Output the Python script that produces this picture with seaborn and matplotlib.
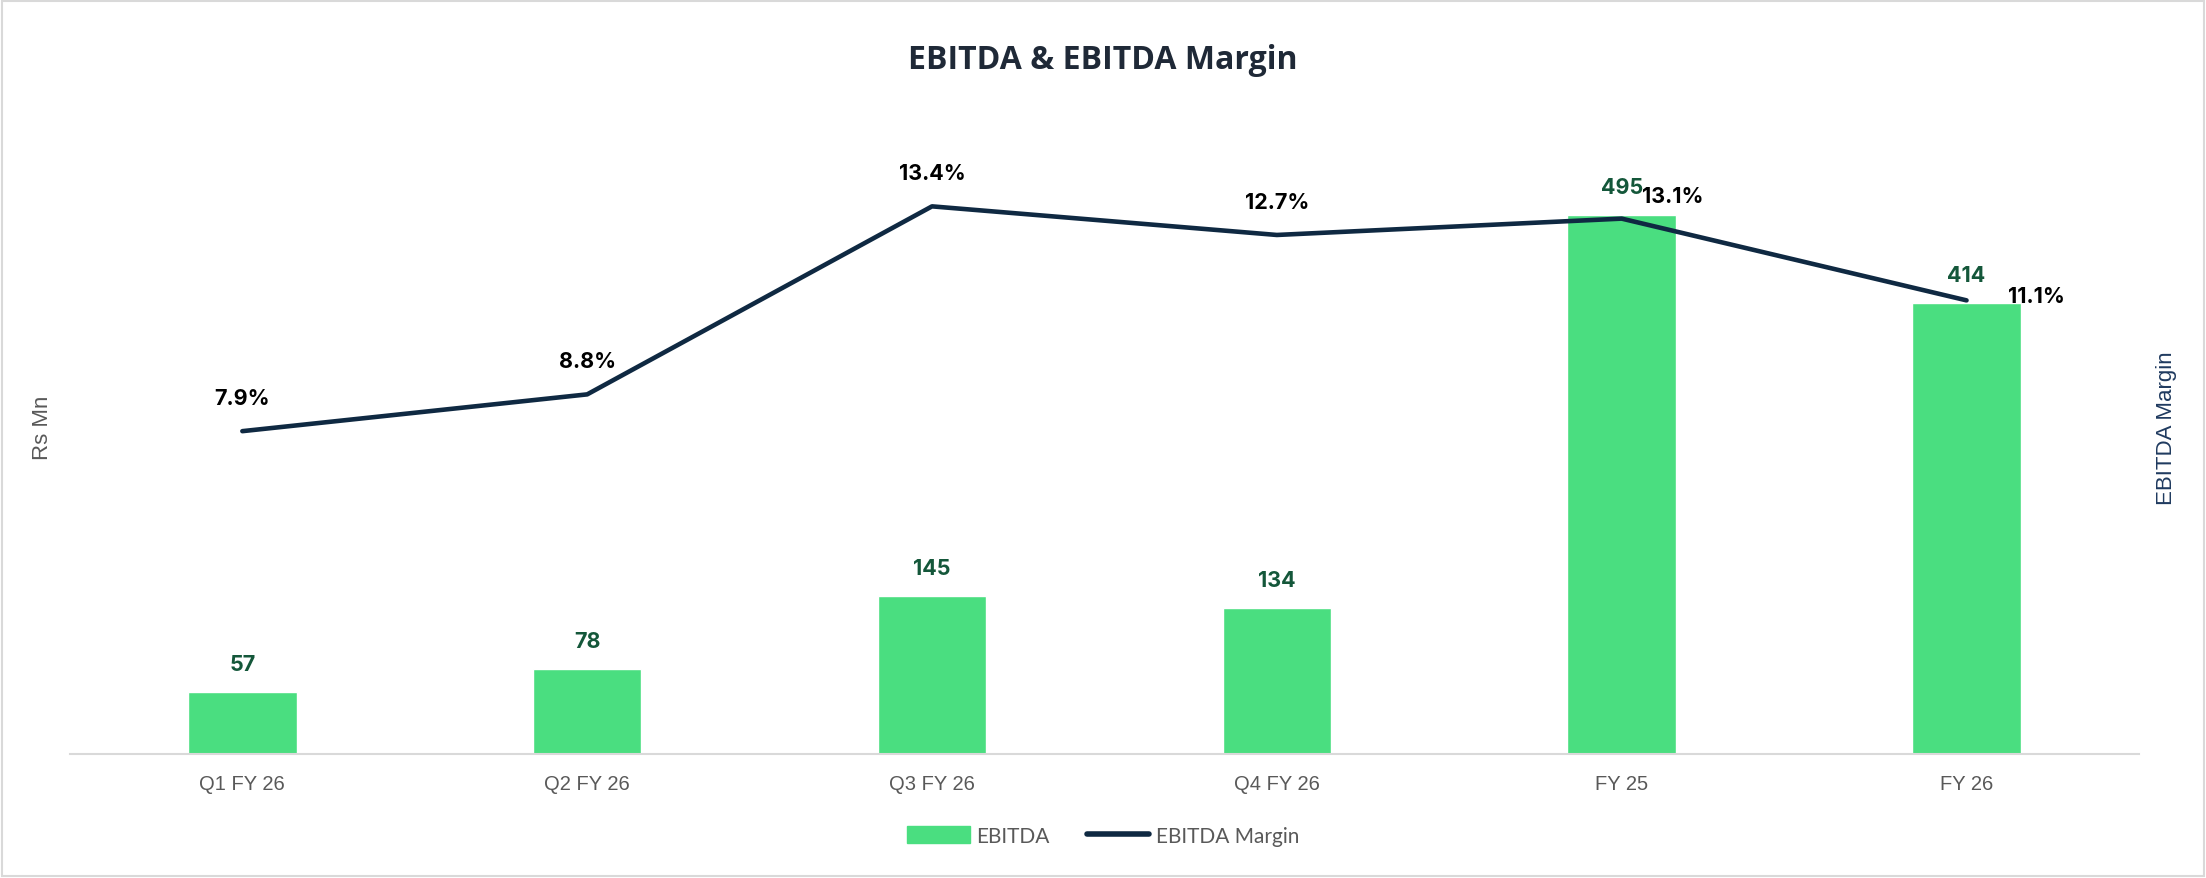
import numpy as np
import pandas as pd
import matplotlib
matplotlib.use('Agg')
import matplotlib.pyplot as plt
import matplotlib.patches as mpatches
from matplotlib.lines import Line2D
import seaborn as sns

# Chart data
periods = ['Q1 FY 26', 'Q2 FY 26', 'Q3 FY 26', 'Q4 FY 26', 'FY 25', 'FY 26']
ebitda = [57, 78, 145, 134, 495, 414]
margin = [7.9, 8.8, 13.4, 12.7, 13.1, 11.1]
margin_labels = ['7.9%', '8.8%', '13.4%', '12.7%', '13.1%', '11.1%']

BAR_COLOR = '#4ADE80'
LINE_COLOR = '#0F2942'
BAR_LABEL_COLOR = '#14573A'
GREY = '#595959'

sns.set_theme(style='white')
plt.rcParams['font.family'] = ['Liberation Sans', 'DejaVu Sans']

df = pd.DataFrame({'period': periods, 'ebitda': ebitda, 'margin': margin})

fig = plt.figure(figsize=(22.06, 8.79), dpi=100)
ax = fig.add_axes([0.0317, 0.141, 0.9379, 0.744])

# Bars: EBITDA (left axis)
sns.barplot(data=df, x='period', y='ebitda', color=BAR_COLOR, saturation=1,
            width=0.315, ax=ax)
ax.set_ylim(0, 600)
ax.set_xlim(-0.5, len(periods) - 0.5)
ax.set_xlabel('')
ax.set_ylabel('Rs Mn', color=GREY, fontsize=16, labelpad=12)
ax.set_yticks([])
ax.tick_params(axis='x', colors=GREY, labelsize=14.5, length=0, pad=14)
for s in ['top', 'left', 'right']:
    ax.spines[s].set_visible(False)
ax.spines['bottom'].set_color('#D9D9D9')
ax.spines['bottom'].set_linewidth(1.5)

for i, v in enumerate(ebitda):
    ax.annotate(str(v), (i, v), xytext=(0, 20), textcoords='offset points',
                ha='center', va='center', fontsize=15.5, fontweight='bold',
                color=BAR_LABEL_COLOR, family=['Inter', 'DejaVu Sans'])

# Line: EBITDA margin (right axis)
ax2 = ax.twinx()
sns.lineplot(x=np.arange(len(periods)), y=margin, color=LINE_COLOR,
             linewidth=3.3, ax=ax2, solid_capstyle='round')
ax2.set_ylim(0, 16)
ax2.set_yticks([])
ax2.set_ylabel('EBITDA Margin', color='#1F3A5F', fontsize=16, labelpad=12)
for s in ['top', 'left', 'right', 'bottom']:
    ax2.spines[s].set_visible(False)

offsets = [(0, 24), (0, 24), (0, 24), (0, 24), (37, 16), (50, 3)]
for i, (lab, off) in enumerate(zip(margin_labels, offsets)):
    ax2.annotate(lab, (i, margin[i]), xytext=off, textcoords='offset points',
                 ha='center', va='center', fontsize=15.5, fontweight='bold',
                 color='#000000', family=['Inter', 'DejaVu Sans'])

fig.suptitle('EBITDA & EBITDA Margin', y=0.95, fontsize=23, fontweight='bold',
             color='#1F2937', family=['Open Sans', 'DejaVu Sans'])

handles = [mpatches.Patch(color=BAR_COLOR, label='EBITDA'),
           Line2D([0], [0], color=LINE_COLOR, linewidth=4,
                  solid_capstyle='round', label='EBITDA Margin')]
leg = fig.legend(handles=handles, loc='center', bbox_to_anchor=(0.5, 0.048),
                 ncol=2, frameon=False, handlelength=3.0, handleheight=0.9,
                 columnspacing=1.8, handletextpad=0.3,
                 prop={'family': ['Lato', 'DejaVu Sans'], 'size': 15})
for t in leg.get_texts():
    t.set_color(GREY)

# light frame around the chart
fig.patches.append(mpatches.Rectangle((0.001, 0.002), 0.998, 0.996,
                                      transform=fig.transFigure, fill=False,
                                      edgecolor='#D9D9D9', linewidth=1.5))

fig.savefig('out.png', dpi=100)
